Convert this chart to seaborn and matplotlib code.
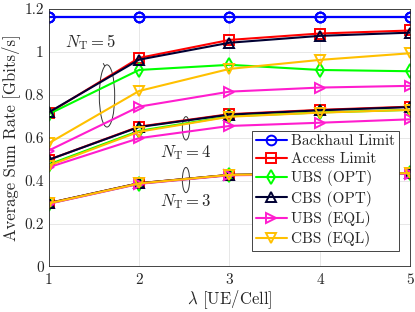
import numpy as np
import pandas as pd
import matplotlib
matplotlib.use("Agg")
import matplotlib.pyplot as plt
import seaborn as sns
from matplotlib.patches import Ellipse

# lambda [UE/Cell]
lam = [1, 2, 3, 4, 5]

# N_T = 5
backhaul = [1.165, 1.165, 1.165, 1.165, 1.165]
access_5 = [0.715, 0.972, 1.056, 1.086, 1.100]
ubs_opt_5 = [0.710, 0.916, 0.940, 0.916, 0.910]
cbs_opt_5 = [0.718, 0.964, 1.043, 1.075, 1.090]
ubs_eql_5 = [0.540, 0.745, 0.815, 0.834, 0.842]
cbs_eql_5 = [0.574, 0.818, 0.921, 0.963, 0.994]

# N_T = 4
access_4 = [0.497, 0.652, 0.710, 0.730, 0.745]
ubs_opt_4 = [0.475, 0.632, 0.700, 0.718, 0.730]
cbs_opt_4 = [0.497, 0.650, 0.708, 0.728, 0.743]
ubs_eql_4 = [0.462, 0.598, 0.655, 0.670, 0.686]
cbs_eql_4 = [0.470, 0.628, 0.698, 0.717, 0.730]

# N_T = 3
access_3 = [0.295, 0.388, 0.427, 0.432, 0.435]
ubs_opt_3 = [0.293, 0.386, 0.426, 0.431, 0.434]
cbs_opt_3 = [0.295, 0.388, 0.427, 0.432, 0.435]
ubs_eql_3 = [0.292, 0.385, 0.425, 0.430, 0.433]
cbs_eql_3 = [0.294, 0.387, 0.427, 0.432, 0.435]

labels = ["Backhaul Limit", "Access Limit", "UBS (OPT)", "CBS (OPT)", "UBS (EQL)", "CBS (EQL)"]
series = {
    "Backhaul Limit": [backhaul, backhaul, backhaul],
    "Access Limit": [access_5, access_4, access_3],
    "UBS (OPT)": [ubs_opt_5, ubs_opt_4, ubs_opt_3],
    "CBS (OPT)": [cbs_opt_5, cbs_opt_4, cbs_opt_3],
    "UBS (EQL)": [ubs_eql_5, ubs_eql_4, ubs_eql_3],
    "CBS (EQL)": [cbs_eql_5, cbs_eql_4, cbs_eql_3],
}
colors = ["#0000ff", "#ff0000", "#00ff00", "#000033", "#ff1dce", "#ffc000"]
markers = ["o", "s", "d", "^", ">", "v"]

sns.set_style("white")
plt.rcParams["font.family"] = ["cmr10", "DejaVu Serif"]
plt.rcParams["mathtext.fontset"] = "cm"
plt.rcParams["axes.formatter.use_mathtext"] = True

fig = plt.figure(figsize=(4.15, 3.12), dpi=100)
ax = fig.add_axes([0.117, 0.146, 0.872, 0.825])

for lab, col, mk in zip(labels, colors, markers):
    for k, vals in enumerate(series[lab]):
        df = pd.DataFrame({"lam": lam, "rate": vals})
        sns.lineplot(data=df, x="lam", y="rate", ax=ax, color=col, marker=mk,
                     markersize=7, markerfacecolor="none", markeredgecolor=col,
                     markeredgewidth=1.4, linewidth=1.5,
                     label=lab if k == 0 else None, legend=False)

ax.set_xlim(1, 5)
ax.set_ylim(0, 1.2)
ax.set_xticks([1, 2, 3, 4, 5])
ax.set_xticklabels(["1", "2", "3", "4", "5"])
ax.set_yticks([0, 0.2, 0.4, 0.6, 0.8, 1.0, 1.2])
ax.set_yticklabels(["0", "0.2", "0.4", "0.6", "0.8", "1", "1.2"])
ax.grid(True, color="#e3e3e3", linewidth=0.6)
ax.tick_params(direction="in", labelsize=11, colors="#262626", length=3)
ax.tick_params(axis="x", pad=5)
ax.tick_params(axis="y", pad=3.5)
for s in ax.spines.values():
    s.set_color("#262626")
    s.set_linewidth(0.6)
ax.set_xlabel(r"$\lambda$ [UE/Cell]", fontsize=12, labelpad=0.5)
ax.set_ylabel("Average Sum Rate [Gbits/s]", fontsize=12, labelpad=3)

# group annotations
ax.add_patch(Ellipse((1.646, 0.795), 0.17, 0.29, fill=False, color="#333333", lw=0.7))
ax.annotate(r"$N_{\mathrm{T}}=5$", xy=(1.62, 0.935), xytext=(1.47, 1.047),
            ha="center", va="center", fontsize=12,
            arrowprops=dict(arrowstyle="-", color="#333333", lw=0.7, shrinkB=0, shrinkA=7))
ax.add_patch(Ellipse((2.519, 0.644), 0.08, 0.109, fill=False, color="#333333", lw=0.7))
ax.text(2.52, 0.531, r"$N_{\mathrm{T}}=4$", ha="center", va="center", fontsize=12)
ax.add_patch(Ellipse((2.519, 0.403), 0.08, 0.117, fill=False, color="#333333", lw=0.7))
ax.text(2.52, 0.302, r"$N_{\mathrm{T}}=3$", ha="center", va="center", fontsize=12)

leg = ax.legend(loc="lower right", fontsize=11, frameon=True, fancybox=False,
                edgecolor="#262626", framealpha=1, labelspacing=0.28,
                handlelength=2.0, handletextpad=0.3, borderpad=0.25,
                bbox_to_anchor=(0.99, 0.03))
leg.get_frame().set_linewidth(0.6)

fig.savefig("out.png", dpi=100)
